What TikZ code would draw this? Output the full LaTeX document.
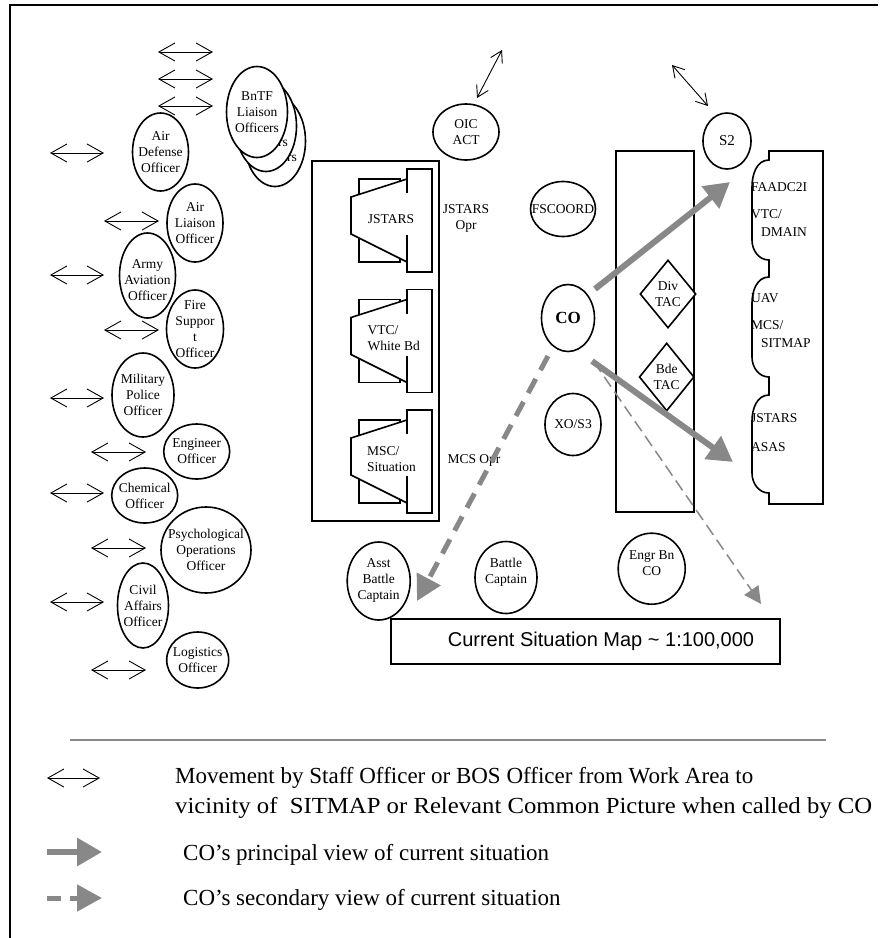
\documentclass[tikz,border=0pt]{standalone}
\usepackage{fontspec}
\usepackage{graphicx}
\setmainfont{Liberation Serif}
\newfontfamily\arialf{Liberation Sans}
\usetikzlibrary{shapes.geometric,arrows.meta}
\definecolor{agray}{RGB}{136,136,136}
\newcommand{\ovalnode}[6]{%
  \node[ell,minimum width=#4pt,minimum height=#5pt] (#1) at (#2,#3) {};}
\newcommand{\ovallabel}[2]{\node[lbl] (#1t) at (#1) {#2};}
\begin{document}
\begin{tikzpicture}[x=1pt,y=-1pt,
  blk/.style={line width=1.6pt},
  ell/.style={draw, ellipse, line width=1.6pt, fill=white, inner sep=0pt},
  dia/.style={draw, diamond, line width=1.6pt, fill=white, inner sep=0pt},
  lbl/.style={font=\fontsize{13.5}{16}\selectfont, align=center, inner sep=0pt},
  lbll/.style={font=\fontsize{13.5}{16}\selectfont, align=left, inner sep=0pt, anchor=west},
  leg/.style={font=\fontsize{23}{30}\selectfont, inner sep=0pt, anchor=west},
  dbl/.style={line width=0.9pt, {Straight Barb[length=16pt,width=18pt]}-{Straight Barb[length=16pt,width=18pt]}},
  dbls/.style={line width=0.9pt, {Straight Barb[length=11pt,width=13pt]}-{Straight Barb[length=11pt,width=13pt]}},
  prin/.style={draw=agray, line width=6pt, -{Triangle[length=25pt,width=27pt]}},
  seca/.style={draw=agray, line width=5pt, dash pattern=on 16pt off 10pt, -{Triangle[length=25pt,width=26pt]}},
  sect/.style={draw=agray, line width=1.5pt, dash pattern=on 12pt off 6pt, -{Triangle[length=17pt,width=17pt]}}]
\useasboundingbox (0,0) rectangle (883,938);
% frame
\draw[line width=2.4pt] (10,938) -- (10,5) -- (878,5);

% ---------- left column double arrows ----------
\foreach \xa/\xb/\yy/\nm in {158/213/52/a1, 158/213/79/a2, 158/213/106/a3, 50/104/153/a4,
  104/159/221/a5, 50/104/275/a6, 104/159/330/a7, 50/104/398/a8, 91/146/452/a9,
  50/104/493/a10, 91/146/548/a11, 50/104/602/a12, 91/146/670/a13} {
  \coordinate (\nm l) at (\xa,\yy);
  \coordinate (\nm r) at (\xb,\yy);
  \draw[dbl] (\nm l) -- (\nm r);
}

% ---------- left column ellipses ----------
\ovalnode{bn3}{275}{141}{61}{91}{}
\node[lbl] (bn3t) at (bn3) {BnTF\\Liaison\\Officers};
\ovalnode{bn2}{266}{126}{61}{91}{}
\node[lbl] (bn2t) at (bn2) {BnTF\\Liaison\\Officers};
\ovalnode{bn1}{257}{112}{61}{91}{}
\node[lbl] (bn1t) at (bn1) {BnTF\\Liaison\\Officers};

\ovalnode{ado}{160.5}{152}{56}{78}{}
\ovalnode{alo}{195}{223}{56}{78}{}
\ovalnode{aao}{147.5}{275.5}{56}{85}{}
\ovalnode{fso}{195}{329}{57}{78}{}
\ovalnode{mpo}{143}{395}{62}{84}{}
\ovalnode{eng}{196.7}{451.5}{66}{55}{}
\ovalnode{chm}{144.7}{495.5}{66}{55}{}
\ovalnode{psy}{206}{550}{90}{86}{}
\ovalnode{caf}{143}{605.5}{51}{85}{}
\ovalnode{log}{197.7}{660}{62}{56}{}
\ovallabel{ado}{Air\\Defense\\Officer}
\ovallabel{alo}{Air\\Liaison\\Officer}
\node[lbl] (aaot) at (147.5,280) {Army\\Aviation\\Officer};
\ovallabel{fso}{Fire\\Suppor\\t\\Officer}
\ovallabel{mpo}{Military\\Police\\Officer}
\ovallabel{eng}{Engineer\\Officer}
\ovallabel{chm}{Chemical\\Officer}
\ovallabel{psy}{Psychological\\Operations\\Officer}
\ovallabel{caf}{Civil\\Affairs\\Officer}
\ovallabel{log}{Logistics\\Officer}

% ---------- center: JSTARS / VTC / MSC console box ----------
\draw[blk] (312,161) rectangle (439,521);
\foreach \y in {169,289.5,410} {
  \draw[blk, fill=white] (359,\y+10) rectangle (400,\y+93);
  \fill[white] (407,\y+10) -- (351,\y+28) -- (351,\y+65) -- (407,\y+93) -- cycle;
  \draw[blk] (407,\y+10) -- (351,\y+28) -- (351,\y+65) -- (407,\y+93);
  \draw[blk] (407,\y+24) -- (407,\y) -- (432,\y) -- (432,\y+103) -- (407,\y+103) -- (407,\y+66);
}
\node[lbl] (mon1) at (391,219) {JSTARS};
\node[lbll] (mon2) at (367.5,338.5) {VTC/\\White Bd};
\node[lbll] (mon3) at (367,459.5) {MSC/\\Situation};
\node[lbl] (jopr) at (466,218.7) {JSTARS\\Opr};
\node[lbl] (mopr) at (474,460) {MCS Opr};

% OIC ACT
\ovalnode{oic}{466}{132}{66}{56}{}
\ovallabel{oic}{OIC\\ACT}
\coordinate (oica) at (477,98);
\coordinate (oicb) at (502,50);
\draw[dbls] (oica) -- (oicb);

% ---------- right-center ----------
\draw[blk] (616,151) rectangle (694,512);
\node[dia, minimum width=56pt, minimum height=68pt] (div) at (668,294) {};
\node[lbl] (divt) at (div) {Div\\TAC};
\node[dia, minimum width=55pt, minimum height=68pt] (bde) at (666.7,377) {};
\node[lbl] (bdet) at (bde) {Bde\\TAC};

\ovalnode{fsc}{563}{209}{65}{55}{}
\ovallabel{fsc}{FSCOORD}
\ovalnode{co}{568}{318}{53}{67}{}
\node[font=\fontsize{17}{20}\selectfont\bfseries, inner sep=0pt] (cot) at (co) {CO};
\ovalnode{xo}{573}{424.5}{56}{62}{}
\ovallabel{xo}{XO/S3}
\ovalnode{s2}{727}{141}{48}{56}{}
\node[font=\fontsize{15}{18}\selectfont, inner sep=0pt] (s2t) at (s2) {S2};
\coordinate (s2a) at (672,65);
\coordinate (s2b) at (708,106);
\draw[dbls] (s2a) -- (s2b);

% right panel with braces
\draw[blk, fill=white] (769,151) -- (769,160) to[out=180,in=90] (752,187) -- (752,240)
  to[out=-90,in=180] (769,260) -- (769,277) to[out=180,in=90] (752,303) -- (752,357)
  to[out=-90,in=180] (769,377) -- (769,395) to[out=180,in=90] (752,421) -- (752,473)
  to[out=-90,in=180] (769,493) -- (769,504) -- (823,504) -- (823,151) -- cycle;
\node[lbll] (pa1) at (751,186.7) {FAADC2I};
\node[lbll] (pa2) at (751,214) {VTC/};
\node[lbll] (pa3) at (761,231.7) {DMAIN};
\node[lbll] (pa4) at (751,298.3) {UAV};
\node[lbll] (pa5) at (751,325) {MCS/};
\node[lbll] (pa6) at (761,342.7) {SITMAP};
\node[lbll] (pa7) at (751,418.3) {JSTARS};
\node[lbll] (pa8) at (751,446.7) {ASAS};

% bottom ellipses
\ovalnode{asst}{378.7}{581}{63}{78}{}
\node[lbl] (asstt) at (378.7,580) {Asst\\Battle\\Captain};
\ovalnode{bat}{506}{577.5}{62}{72}{}
\node[lbl] (batt) at (506,572) {Battle\\Captain};
\ovalnode{ebn}{651.7}{568.7}{67}{71}{}
\node[lbl] (ebnt) at (651.7,563) {Engr Bn\\CO};

% map
\node[draw, line width=1.6pt, fill=white, minimum width=389pt, minimum height=45pt, inner sep=0pt] (map) at (585.5,641.5) {};
\node[font=\arialf\fontsize{20}{24}\selectfont, inner sep=0pt] (mapt) at (601,641.7) {Current Situation Map \textasciitilde{} 1:100,000};

% ---------- gray view arrows ----------
\coordinate (g1s) at (595,289);
\coordinate (g1e) at (730,182);
\coordinate (g2s) at (592,361);
\coordinate (g2e) at (733,462);
\coordinate (g3s) at (548,356);
\coordinate (g3e) at (417,601);
\coordinate (g4s) at (594,362);
\coordinate (g4e) at (761,604);
\draw[prin] (g1s) -- (g1e);
\draw[prin] (g2s) -- (g2e);
\draw[seca] (g3s) -- (g3e);
\draw[sect] (g4s) -- (g4e);

% ---------- legend ----------
\coordinate (sepl) at (70,740);
\coordinate (sepr) at (826,740);
\draw[agray, line width=2pt] (sepl) -- (sepr);
\coordinate (l1a) at (47,778);
\coordinate (l1b) at (100,778);
\draw[dbl] (l1a) -- (l1b);
\node[leg] (lt1) at (175,778) {Movement by Staff Officer or BOS Officer from Work Area to};
\node[leg] (lt2) at (175,808) {\scalebox{1.075}[1]{vicinity of~ SITMAP or Relevant Common Picture when called by CO}};
\coordinate (l2a) at (47,852);
\coordinate (l2b) at (102,852);
\draw[prin] (l2a) -- (l2b);
\node[leg] (lt3) at (183,855) {CO’s principal view of current situation};
\coordinate (l3a) at (47,898);
\coordinate (l3b) at (102,898);
\draw[seca, dash pattern=on 14pt off 9pt] (l3a) -- (l3b);
\node[leg] (lt4) at (183,900) {CO’s secondary view of current situation};
\end{tikzpicture}
\end{document}
